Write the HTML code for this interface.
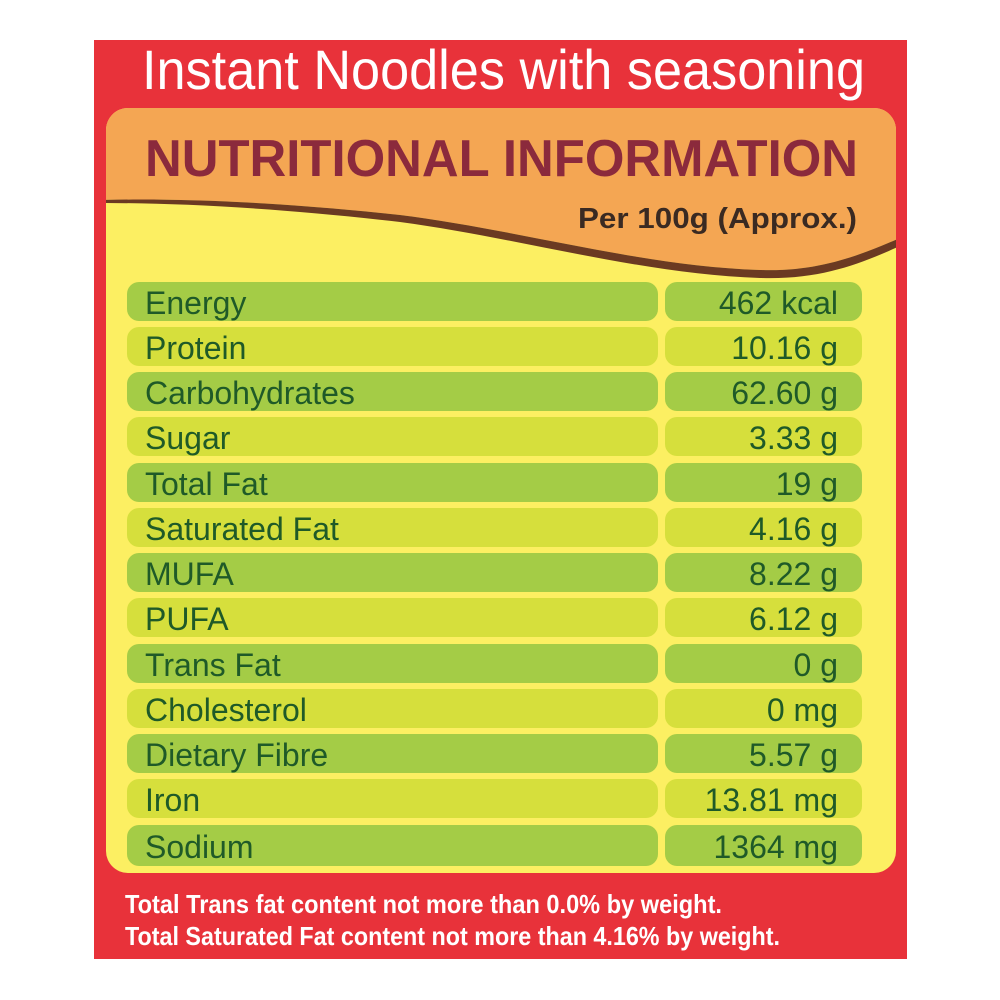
<!DOCTYPE html>
<html><head><meta charset="utf-8"><style>
html,body{margin:0;padding:0;background:#fff;width:1000px;height:1000px;overflow:hidden}
svg{display:block}
text{font-family:"Liberation Sans",sans-serif}
</style></head><body>
<svg width="1000" height="1000" viewBox="0 0 1000 1000" xmlns="http://www.w3.org/2000/svg">
<rect x="0" y="0" width="1000" height="1000" fill="#fff"/>
<rect x="94" y="40" width="813" height="919" fill="#e8323a"/>
<text x="142" y="89" font-size="56" fill="#fff" textLength="723" lengthAdjust="spacingAndGlyphs">Instant Noodles with seasoning</text>
<clipPath id="pc"><rect x="106" y="108" width="790" height="765" rx="22"/></clipPath>
<g clip-path="url(#pc)">
<rect x="106" y="108" width="790" height="765" fill="#fcef62"/>
<path d="M100 100 L900 100 L900 238 C860 255 820 272 760 270 C640 266 520 230 400 215 C280 202 180 198 100 200 Z" fill="#f4a653"/>
<path d="M100 200 C180 198 280 202 400 215 C520 230 640 266 760 270 C820 272 860 255 900 238 L900 246 C860 264 820 280 760 278 C640 274 520 238 400 222 C280 208 180 203 100 203 Z" fill="#6b3a22"/>
</g>
<text x="145" y="176" font-size="52" font-weight="bold" fill="#8b2a3c" textLength="713" lengthAdjust="spacingAndGlyphs">NUTRITIONAL INFORMATION</text>
<text x="578" y="228" font-size="29" font-weight="bold" fill="#3a2a22" textLength="279" lengthAdjust="spacingAndGlyphs">Per 100g (Approx.)</text>
<g font-size="32" fill="#1f5a28">
<rect x="127" y="282" width="531" height="39" rx="12" fill="#a4cc46"/><rect x="665" y="282" width="197" height="39" rx="12" fill="#a4cc46"/><text x="145" y="314">Energy</text><text x="838" y="314" text-anchor="end">462 kcal</text>
<rect x="127" y="327" width="531" height="39" rx="12" fill="#d6df3c"/><rect x="665" y="327" width="197" height="39" rx="12" fill="#d6df3c"/><text x="145" y="359">Protein</text><text x="838" y="359" text-anchor="end">10.16 g</text>
<rect x="127" y="372" width="531" height="39" rx="12" fill="#a4cc46"/><rect x="665" y="372" width="197" height="39" rx="12" fill="#a4cc46"/><text x="145" y="404">Carbohydrates</text><text x="838" y="404" text-anchor="end">62.60 g</text>
<rect x="127" y="417" width="531" height="39" rx="12" fill="#d6df3c"/><rect x="665" y="417" width="197" height="39" rx="12" fill="#d6df3c"/><text x="145" y="449">Sugar</text><text x="838" y="449" text-anchor="end">3.33 g</text>
<rect x="127" y="463" width="531" height="39" rx="12" fill="#a4cc46"/><rect x="665" y="463" width="197" height="39" rx="12" fill="#a4cc46"/><text x="145" y="495">Total Fat</text><text x="838" y="495" text-anchor="end">19 g</text>
<rect x="127" y="508" width="531" height="39" rx="12" fill="#d6df3c"/><rect x="665" y="508" width="197" height="39" rx="12" fill="#d6df3c"/><text x="145" y="540">Saturated Fat</text><text x="838" y="540" text-anchor="end">4.16 g</text>
<rect x="127" y="553" width="531" height="39" rx="12" fill="#a4cc46"/><rect x="665" y="553" width="197" height="39" rx="12" fill="#a4cc46"/><text x="145" y="585">MUFA</text><text x="838" y="585" text-anchor="end">8.22 g</text>
<rect x="127" y="598" width="531" height="39" rx="12" fill="#d6df3c"/><rect x="665" y="598" width="197" height="39" rx="12" fill="#d6df3c"/><text x="145" y="630">PUFA</text><text x="838" y="630" text-anchor="end">6.12 g</text>
<rect x="127" y="644" width="531" height="39" rx="12" fill="#a4cc46"/><rect x="665" y="644" width="197" height="39" rx="12" fill="#a4cc46"/><text x="145" y="676">Trans Fat</text><text x="838" y="676" text-anchor="end">0 g</text>
<rect x="127" y="689" width="531" height="39" rx="12" fill="#d6df3c"/><rect x="665" y="689" width="197" height="39" rx="12" fill="#d6df3c"/><text x="145" y="721">Cholesterol</text><text x="838" y="721" text-anchor="end">0 mg</text>
<rect x="127" y="734" width="531" height="39" rx="12" fill="#a4cc46"/><rect x="665" y="734" width="197" height="39" rx="12" fill="#a4cc46"/><text x="145" y="766">Dietary Fibre</text><text x="838" y="766" text-anchor="end">5.57 g</text>
<rect x="127" y="779" width="531" height="39" rx="12" fill="#d6df3c"/><rect x="665" y="779" width="197" height="39" rx="12" fill="#d6df3c"/><text x="145" y="811">Iron</text><text x="838" y="811" text-anchor="end">13.81 mg</text>
<rect x="127" y="825" width="531" height="41" rx="12" fill="#a4cc46"/><rect x="665" y="825" width="197" height="41" rx="12" fill="#a4cc46"/><text x="145" y="858">Sodium</text><text x="838" y="858" text-anchor="end">1364 mg</text>
</g>
<text x="125" y="913" font-size="26" font-weight="bold" fill="#fff" textLength="597" lengthAdjust="spacingAndGlyphs">Total Trans fat content  not more than 0.0% by weight.</text>
<text x="125" y="945" font-size="26" font-weight="bold" fill="#fff" textLength="655" lengthAdjust="spacingAndGlyphs">Total Saturated Fat content not more than 4.16% by weight.</text>
</svg>
</body></html>
